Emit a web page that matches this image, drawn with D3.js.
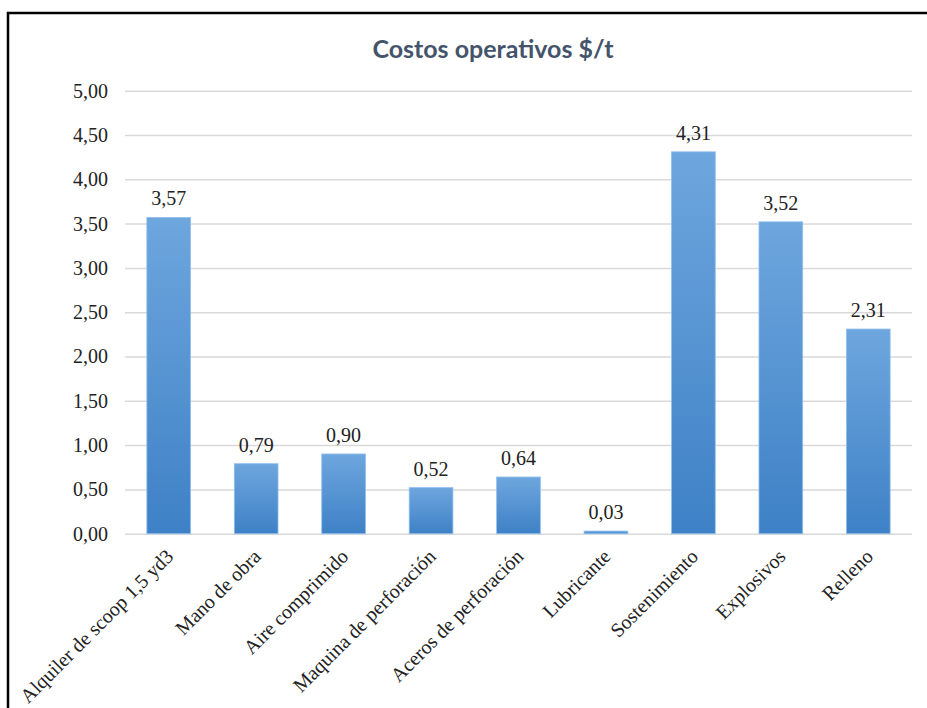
<!DOCTYPE html>
<html><head><meta charset="utf-8">
<script src="https://cdn.jsdelivr.net/npm/d3@7"></script>
<style>body{margin:0;background:#fff}svg{display:block}</style>
</head><body>
<svg id="c" width="927" height="708"></svg>
<script>
const categories = ["Alquiler de scoop 1,5 yd3","Mano de obra","Aire comprimido","Maquina de perforación","Aceros de perforación","Lubricante","Sostenimiento","Explosivos","Relleno"];
const values = [3.57,0.79,0.90,0.52,0.64,0.03,4.31,3.52,2.31];
const yTicks = [0,0.5,1,1.5,2,2.5,3,3.5,4,4.5,5];
const title = "Costos operativos $/t";

const svg = d3.select("#c");
const fmt = v => d3.format(".2f")(v).replace(".", ",");
const m = {left:125, right:15, top:90.7, bottom:174.3};
const W = 927, H = 708;
const x = d3.scaleBand().domain(categories).range([m.left, W - m.right]).paddingInner(0.5).paddingOuter(0.25);
const y = d3.scaleLinear().domain([0,5]).range([H - m.bottom, m.top]);
const serif = "'Liberation Serif', 'Times New Roman', serif";

const defs = svg.append("defs");
const g = defs.append("linearGradient").attr("id","bg").attr("x1",0).attr("y1",0).attr("x2",0).attr("y2",1);
g.append("stop").attr("offset","0%").attr("stop-color","#6ea6de");
g.append("stop").attr("offset","100%").attr("stop-color","#3e81c6");

// frame
svg.append("path").attr("d", `M8,${H+5} V13 H${W+5}`).attr("fill","none").attr("stroke","#000").attr("stroke-width",2.5);

// title
svg.append("text").attr("x", 493).attr("y", 58).attr("text-anchor","middle")
  .attr("font-family","Lato, 'Open Sans', sans-serif").attr("font-weight","bold").attr("font-size",25)
  .attr("fill","#44546a").text(title);

// grid
const yAxis = d3.axisLeft(y).tickValues(yTicks).tickSize(-(W - m.left - m.right)).tickFormat(fmt).tickPadding(17);
const ga = svg.append("g").attr("transform",`translate(${m.left},0)`).call(yAxis);
ga.select(".domain").remove();
ga.selectAll(".tick line").attr("stroke","#d9d9d9").attr("stroke-width",1.5);
ga.selectAll(".tick text").attr("font-family",serif).attr("font-size",20).attr("fill","#222");

// bars
svg.append("g").selectAll("rect").data(values).join("rect")
  .attr("x",(d,i)=>x(categories[i])).attr("width",x.bandwidth())
  .attr("y",d=>y(d)).attr("height",d=>y(0)-y(d))
  .attr("fill","url(#bg)").attr("stroke","#8fbfee").attr("stroke-width",0.8);

// data labels
svg.append("g").selectAll("text").data(values).join("text")
  .attr("x",(d,i)=>x(categories[i])+x.bandwidth()/2).attr("y",d=>y(d)-12)
  .attr("text-anchor","middle").attr("font-family",serif)
  .attr("font-size",20).attr("fill","#222").text(fmt);

// x labels
svg.append("g").selectAll("text").data(categories).join("text")
  .attr("transform",d=>`translate(${x(d)+x.bandwidth()/2+1},${y(0)+19}) rotate(-45)`)
  .attr("text-anchor","end").attr("dy","0.35em")
  .attr("font-family",serif)
  .attr("font-size",20).attr("fill","#222").text(d=>d);
</script>
</body></html>
